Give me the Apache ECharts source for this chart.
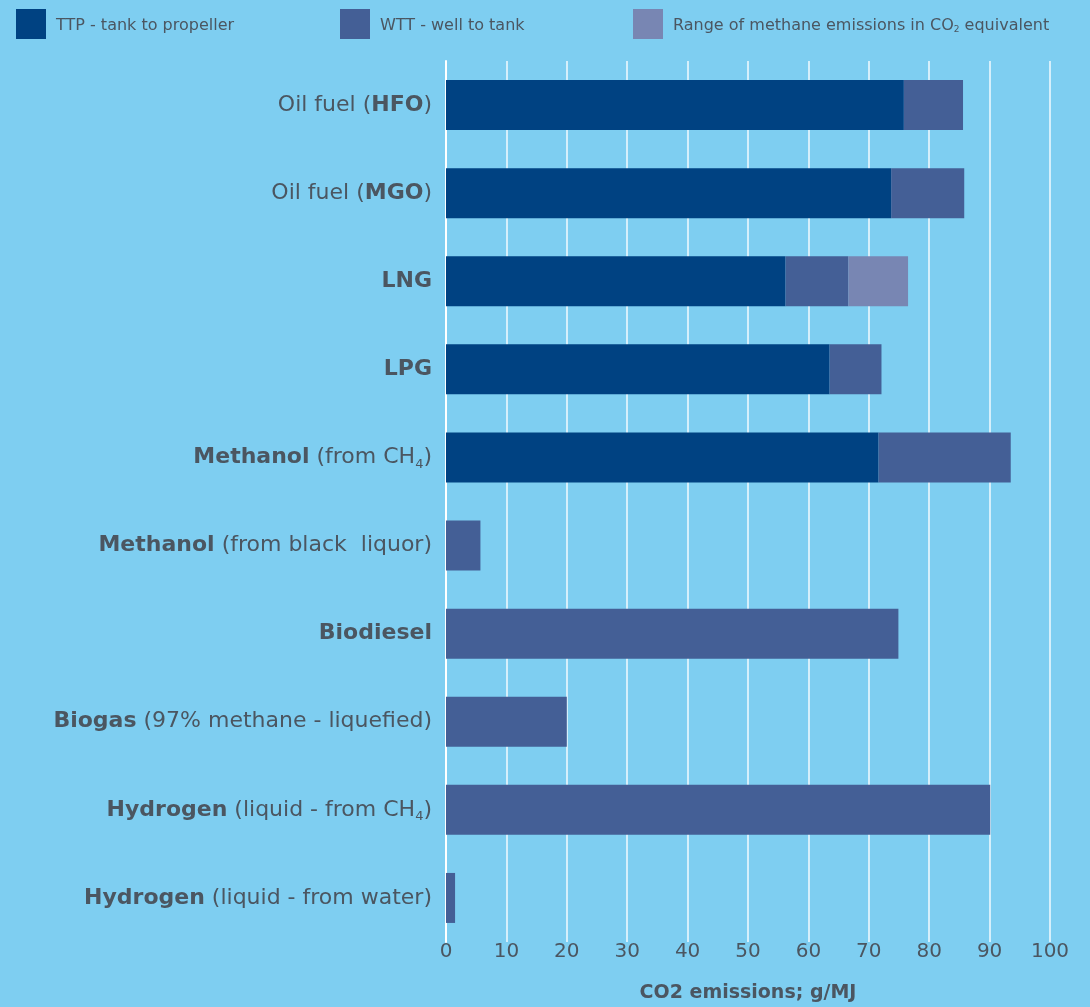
<!DOCTYPE html>
<html>
<head>
<meta charset="utf-8">
<script src="https://cdn.jsdelivr.net/npm/echarts@6/dist/echarts.min.js"></script>
<style>
html, body { margin: 0; padding: 0; background: #7ecef1; }
#chart { width: 1090px; height: 1007px; }
</style>
</head>
<body>
<div id="chart"></div>
<script>
// categories, top to bottom
var fuels = [
	'Oil fuel ({b|HFO})',
	'Oil fuel ({b|MGO})',
	'{b|LNG}',
	'{b|LPG}',
	'{b|Methanol} (from CH{sub|4})',
	'{b|Methanol} (from black  liquor)',
	'{b|Biodiesel}',
	'{b|Biogas} (97% methane - liquefied)',
	'{b|Hydrogen} (liquid - from CH{sub|4})',
	'{b|Hydrogen} (liquid - from water)'
];
var seriesNames = ['TTP - tank to propeller', 'WTT - well to tank', 'Range of methane emissions in CO2 equivalent'];
var ttpValues = [75.8, 73.7, 56.2, 63.5, 71.6, '-', '-', '-', '-', '-'];
var wttValues = [9.8, 12.1, 10.4, 8.6, 21.9, 5.7, 74.9, 20.0, 90.1, 1.5];
var methaneValues = ['-', '-', 9.9, '-', '-', '-', '-', '-', '-', '-'];
var xTicks = [0, 100, 10]; // min, max, interval

var textColor = '#4b5661';
var fontFamily = '"DejaVu Sans", sans-serif';
var colors = ['#004282', '#445f96', '#7886b3'];

var chart = echarts.init(document.getElementById('chart'));

function legendFor(i, left) {
	return {
		data: [seriesNames[i]],
		left: left,
		top: 9,
		padding: 0,
		itemWidth: 30,
		itemHeight: 30,
		itemGap: 10,
		icon: 'rect',
		selectedMode: false,
		formatter: function (name) {
			return name.replace('CO2', 'CO{sub|2}');
		},
		textStyle: {
			color: textColor,
			fontFamily: fontFamily,
			fontSize: 16,
			padding: [3, 0, 0, 5],
			rich: {
				sub: { fontSize: 9, padding: [8, 0, 0, 0], color: textColor, fontFamily: fontFamily }
			}
		}
	};
}

var option = {
	backgroundColor: '#7ecef1',
	animation: false,
	color: colors,
	legend: [legendFor(0, 16), legendFor(1, 340), legendFor(2, 633)],
	grid: {
		left: 446,
		right: 40,
		top: 61,
		bottom: 65,
		outerBoundsMode: 'none',
		containLabel: false
	},
	xAxis: {
		type: 'value',
		min: xTicks[0],
		max: xTicks[1],
		interval: xTicks[2],
		name: 'CO2 emissions; g/MJ',
		nameLocation: 'middle',
		nameGap: 42,
		nameTextStyle: {
			color: textColor,
			fontFamily: fontFamily,
			fontSize: 19,
			fontWeight: 'bold'
		},
		axisLine: { show: false },
		axisTick: { show: false },
		axisLabel: {
			color: textColor,
			fontFamily: fontFamily,
			fontSize: 20,
			margin: 0
		},
		splitLine: {
			show: true,
			lineStyle: { color: '#ffffff', width: 1.5, opacity: 0.9 }
		}
	},
	yAxis: {
		type: 'category',
		inverse: true,
		data: fuels,
		axisTick: { show: false },
		axisLine: {
			show: true,
			lineStyle: { color: '#ffffff', width: 2 }
		},
		axisLabel: {
			margin: 14,
			color: textColor,
			fontFamily: fontFamily,
			fontSize: 22,
			rich: {
				b: { fontWeight: 'bold', fontSize: 22, color: textColor, fontFamily: fontFamily },
				sub: { fontSize: 13, padding: [14, 0, 0, 0], color: textColor, fontFamily: fontFamily }
			}
		},
		splitLine: { show: false }
	},
	series: [{
		name: seriesNames[0],
		type: 'bar',
		stack: 'total',
		barWidth: 50,
		data: ttpValues
	}, {
		name: seriesNames[1],
		type: 'bar',
		stack: 'total',
		barWidth: 50,
		data: wttValues
	}, {
		name: seriesNames[2],
		type: 'bar',
		stack: 'total',
		barWidth: 50,
		data: methaneValues
	}]
};
chart.setOption(option);
</script>
</body>
</html>
